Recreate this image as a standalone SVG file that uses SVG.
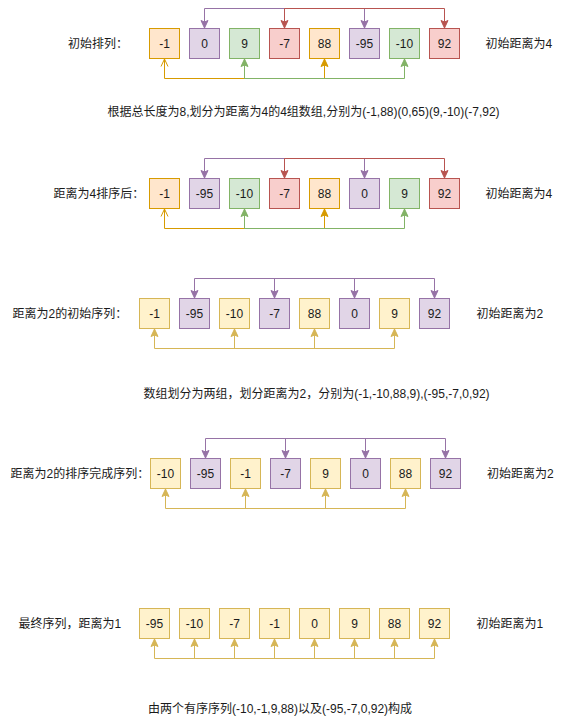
<svg xmlns="http://www.w3.org/2000/svg" width="566" height="724" viewBox="0 0 566 724">
<style>
text{font-family:"Liberation Sans","Noto Sans CJK SC",sans-serif;font-size:12px;fill:#1a1a1a}
.n{text-anchor:middle}
.o{fill:#ffe6cc;stroke:#d79b00}
.p{fill:#e1d5e7;stroke:#9673a6}
.g{fill:#d5e8d4;stroke:#82b366}
.r{fill:#f8cecc;stroke:#b85450}
.y{fill:#fff2cc;stroke:#d6b656}
.c{fill:none;stroke-width:1}
.cp{stroke:#9673a6}.cr{stroke:#b85450}.co{stroke:#d79b00}.cg{stroke:#82b366}.cy{stroke:#d6b656}
</style>
<defs>
<marker id="aP" markerUnits="userSpaceOnUse" orient="auto-start-reverse" refX="0" refY="0" markerWidth="10" markerHeight="10" overflow="visible"><path d="M0,0 L-7.5,-3.5 L-6,0 L-7.5,3.5 Z" fill="#9673a6" stroke="#9673a6"/></marker>
<marker id="aR" markerUnits="userSpaceOnUse" orient="auto-start-reverse" refX="0" refY="0" markerWidth="10" markerHeight="10" overflow="visible"><path d="M0,0 L-7.5,-3.5 L-6,0 L-7.5,3.5 Z" fill="#b85450" stroke="#b85450"/></marker>
<marker id="aO" markerUnits="userSpaceOnUse" orient="auto-start-reverse" refX="0" refY="0" markerWidth="10" markerHeight="10" overflow="visible"><path d="M0,0 L-7.5,-3.5 L-6,0 L-7.5,3.5 Z" fill="#d79b00" stroke="#d79b00"/></marker>
<marker id="aOo" markerUnits="userSpaceOnUse" orient="auto-start-reverse" refX="0" refY="0" markerWidth="10" markerHeight="10" overflow="visible"><path d="M-7.5,-3.5 L0,0 L-7.5,3.5" fill="none" stroke="#d79b00"/></marker>
<marker id="aG" markerUnits="userSpaceOnUse" orient="auto-start-reverse" refX="0" refY="0" markerWidth="10" markerHeight="10" overflow="visible"><path d="M0,0 L-7.5,-3.5 L-6,0 L-7.5,3.5 Z" fill="#82b366" stroke="#82b366"/></marker>
<marker id="aY" markerUnits="userSpaceOnUse" orient="auto-start-reverse" refX="0" refY="0" markerWidth="10" markerHeight="10" overflow="visible"><path d="M0,0 L-7.5,-3.5 L-6,0 L-7.5,3.5 Z" fill="#d6b656" stroke="#d6b656"/></marker>
</defs>

<g id="connectors">
<!-- row 1 -->
<path class="c cp" d="M204.5,28 V8.5 H364.5 V28" marker-start="url(#aP)" marker-end="url(#aP)"/>
<path class="c cr" d="M284.5,28 V8.5 H444.5 V28" marker-start="url(#aR)" marker-end="url(#aR)"/>
<path class="c co" d="M164.5,59 V78.5 H324.5 V59" marker-start="url(#aOo)" marker-end="url(#aO)"/>
<path class="c cg" d="M244.5,59 V78.5 H404.5 V59" marker-start="url(#aG)" marker-end="url(#aG)"/>
<!-- row 2 -->
<path class="c cp" d="M204.5,178 V158.5 H364.5 V178" marker-start="url(#aP)" marker-end="url(#aP)"/>
<path class="c cr" d="M284.5,178 V158.5 H444.5 V178" marker-start="url(#aR)" marker-end="url(#aR)"/>
<path class="c co" d="M164.5,209 V228.5 H324.5 V209" marker-start="url(#aOo)" marker-end="url(#aO)"/>
<path class="c cg" d="M244.5,209 V228.5 H404.5 V209" marker-start="url(#aG)" marker-end="url(#aG)"/>
<!-- row 3 -->
<path class="c cp" d="M194.5,298 V278.5 H434.5 V298" marker-start="url(#aP)" marker-end="url(#aP)"/>
<path class="c cp" d="M274.5,278.5 V298" marker-end="url(#aP)"/>
<path class="c cp" d="M354.5,278.5 V298" marker-end="url(#aP)"/>
<path class="c cy" d="M154.5,329 V348.5 H394.5 V329" marker-start="url(#aY)" marker-end="url(#aY)"/>
<path class="c cy" d="M234.5,348.5 V329" marker-end="url(#aY)"/>
<path class="c cy" d="M314.5,348.5 V329" marker-end="url(#aY)"/>
<!-- row 4 -->
<path class="c cp" d="M205.5,458 V438.5 H445.5 V458" marker-start="url(#aP)" marker-end="url(#aP)"/>
<path class="c cp" d="M285.5,438.5 V458" marker-end="url(#aP)"/>
<path class="c cp" d="M365.5,438.5 V458" marker-end="url(#aP)"/>
<path class="c cy" d="M165.5,489 V508.5 H405.5 V489" marker-start="url(#aY)" marker-end="url(#aY)"/>
<path class="c cy" d="M245.5,508.5 V489" marker-end="url(#aY)"/>
<path class="c cy" d="M325.5,508.5 V489" marker-end="url(#aY)"/>
<!-- row 5 -->
<path class="c cy" d="M154.5,639 V658.5 H434.5 V639" marker-start="url(#aY)" marker-end="url(#aY)"/>
<path class="c cy" d="M194.5,658.5 V639" marker-end="url(#aY)"/>
<path class="c cy" d="M234.5,658.5 V639" marker-end="url(#aY)"/>
<path class="c cy" d="M274.5,658.5 V639" marker-end="url(#aY)"/>
<path class="c cy" d="M314.5,658.5 V639" marker-end="url(#aY)"/>
<path class="c cy" d="M354.5,658.5 V639" marker-end="url(#aY)"/>
<path class="c cy" d="M394.5,658.5 V639" marker-end="url(#aY)"/>
</g>

<!-- Row 1 -->
<g id="r1-label"><text x="68" y="47.5">初始排列：</text></g>
<g id="r1-n1"><rect class="o" x="149.5" y="28.5" width="30" height="30"/><text class="n" x="164.5" y="47.5">-1</text></g>
<g id="r1-n2"><rect class="p" x="189.5" y="28.5" width="30" height="30"/><text class="n" x="204.5" y="47.5">0</text></g>
<g id="r1-n3"><rect class="g" x="229.5" y="28.5" width="30" height="30"/><text class="n" x="244.5" y="47.5">9</text></g>
<g id="r1-n4"><rect class="r" x="269.5" y="28.5" width="30" height="30"/><text class="n" x="284.5" y="47.5">-7</text></g>
<g id="r1-n5"><rect class="o" x="309.5" y="28.5" width="30" height="30"/><text class="n" x="324.5" y="47.5">88</text></g>
<g id="r1-n6"><rect class="p" x="349.5" y="28.5" width="30" height="30"/><text class="n" x="364.5" y="47.5">-95</text></g>
<g id="r1-n7"><rect class="g" x="389.5" y="28.5" width="30" height="30"/><text class="n" x="404.5" y="47.5">-10</text></g>
<g id="r1-n8"><rect class="r" x="429.5" y="28.5" width="30" height="30"/><text class="n" x="444.5" y="47.5">92</text></g>
<g id="r1-right"><text x="485.5" y="47.5">初始距离为4</text></g>
<g id="r1-note"><text x="107.5" y="116">根据总长度为8,划分为距离为4的4组数组,分别为(-1,88)(0,65)(9,-10)(-7,92)</text></g>

<!-- Row 2 -->
<g id="r2-label"><text x="53.5" y="197.5">距离为4排序后：</text></g>
<g id="r2-n1"><rect class="o" x="149.5" y="178.5" width="30" height="30"/><text class="n" x="164.5" y="197.5">-1</text></g>
<g id="r2-n2"><rect class="p" x="189.5" y="178.5" width="30" height="30"/><text class="n" x="204.5" y="197.5">-95</text></g>
<g id="r2-n3"><rect class="g" x="229.5" y="178.5" width="30" height="30"/><text class="n" x="244.5" y="197.5">-10</text></g>
<g id="r2-n4"><rect class="r" x="269.5" y="178.5" width="30" height="30"/><text class="n" x="284.5" y="197.5">-7</text></g>
<g id="r2-n5"><rect class="o" x="309.5" y="178.5" width="30" height="30"/><text class="n" x="324.5" y="197.5">88</text></g>
<g id="r2-n6"><rect class="p" x="349.5" y="178.5" width="30" height="30"/><text class="n" x="364.5" y="197.5">0</text></g>
<g id="r2-n7"><rect class="g" x="389.5" y="178.5" width="30" height="30"/><text class="n" x="404.5" y="197.5">9</text></g>
<g id="r2-n8"><rect class="r" x="429.5" y="178.5" width="30" height="30"/><text class="n" x="444.5" y="197.5">92</text></g>
<g id="r2-right"><text x="485.5" y="197.5">初始距离为4</text></g>

<!-- Row 3 -->
<g id="r3-label"><text x="12.5" y="317.5">距离为2的初始序列：</text></g>
<g id="r3-n1"><rect class="y" x="139.5" y="298.5" width="30" height="30"/><text class="n" x="154.5" y="317.5">-1</text></g>
<g id="r3-n2"><rect class="p" x="179.5" y="298.5" width="30" height="30"/><text class="n" x="194.5" y="317.5">-95</text></g>
<g id="r3-n3"><rect class="y" x="219.5" y="298.5" width="30" height="30"/><text class="n" x="234.5" y="317.5">-10</text></g>
<g id="r3-n4"><rect class="p" x="259.5" y="298.5" width="30" height="30"/><text class="n" x="274.5" y="317.5">-7</text></g>
<g id="r3-n5"><rect class="y" x="299.5" y="298.5" width="30" height="30"/><text class="n" x="314.5" y="317.5">88</text></g>
<g id="r3-n6"><rect class="p" x="339.5" y="298.5" width="30" height="30"/><text class="n" x="354.5" y="317.5">0</text></g>
<g id="r3-n7"><rect class="y" x="379.5" y="298.5" width="30" height="30"/><text class="n" x="394.5" y="317.5">9</text></g>
<g id="r3-n8"><rect class="p" x="419.5" y="298.5" width="30" height="30"/><text class="n" x="434.5" y="317.5">92</text></g>
<g id="r3-right"><text x="476.5" y="317.5">初始距离为2</text></g>
<g id="r3-note"><text x="143.5" y="397.5">数组划分为两组，划分距离为2，分别为(-1,-10,88,9),(-95,-7,0,92)</text></g>

<!-- Row 4 -->
<g id="r4-label"><text x="10.5" y="477.5">距离为2的排序完成序列：</text></g>
<g id="r4-n1"><rect class="y" x="150.5" y="458.5" width="30" height="30"/><text class="n" x="165.5" y="477.5">-10</text></g>
<g id="r4-n2"><rect class="p" x="190.5" y="458.5" width="30" height="30"/><text class="n" x="205.5" y="477.5">-95</text></g>
<g id="r4-n3"><rect class="y" x="230.5" y="458.5" width="30" height="30"/><text class="n" x="245.5" y="477.5">-1</text></g>
<g id="r4-n4"><rect class="p" x="270.5" y="458.5" width="30" height="30"/><text class="n" x="285.5" y="477.5">-7</text></g>
<g id="r4-n5"><rect class="y" x="310.5" y="458.5" width="30" height="30"/><text class="n" x="325.5" y="477.5">9</text></g>
<g id="r4-n6"><rect class="p" x="350.5" y="458.5" width="30" height="30"/><text class="n" x="365.5" y="477.5">0</text></g>
<g id="r4-n7"><rect class="y" x="390.5" y="458.5" width="30" height="30"/><text class="n" x="405.5" y="477.5">88</text></g>
<g id="r4-n8"><rect class="p" x="430.5" y="458.5" width="30" height="30"/><text class="n" x="445.5" y="477.5">92</text></g>
<g id="r4-right"><text x="487" y="477.5">初始距离为2</text></g>

<!-- Row 5 -->
<g id="r5-label"><text x="18.5" y="627.5">最终序列，距离为1</text></g>
<g id="r5-n1"><rect class="y" x="139.5" y="608.5" width="30" height="30"/><text class="n" x="154.5" y="627.5">-95</text></g>
<g id="r5-n2"><rect class="y" x="179.5" y="608.5" width="30" height="30"/><text class="n" x="194.5" y="627.5">-10</text></g>
<g id="r5-n3"><rect class="y" x="219.5" y="608.5" width="30" height="30"/><text class="n" x="234.5" y="627.5">-7</text></g>
<g id="r5-n4"><rect class="y" x="259.5" y="608.5" width="30" height="30"/><text class="n" x="274.5" y="627.5">-1</text></g>
<g id="r5-n5"><rect class="y" x="299.5" y="608.5" width="30" height="30"/><text class="n" x="314.5" y="627.5">0</text></g>
<g id="r5-n6"><rect class="y" x="339.5" y="608.5" width="30" height="30"/><text class="n" x="354.5" y="627.5">9</text></g>
<g id="r5-n7"><rect class="y" x="379.5" y="608.5" width="30" height="30"/><text class="n" x="394.5" y="627.5">88</text></g>
<g id="r5-n8"><rect class="y" x="419.5" y="608.5" width="30" height="30"/><text class="n" x="434.5" y="627.5">92</text></g>
<g id="r5-right"><text x="476.5" y="627.5">初始距离为1</text></g>
<g id="r5-note"><text x="148" y="712.5">由两个有序序列(-10,-1,9,88)以及(-95,-7,0,92)构成</text></g>
</svg>
